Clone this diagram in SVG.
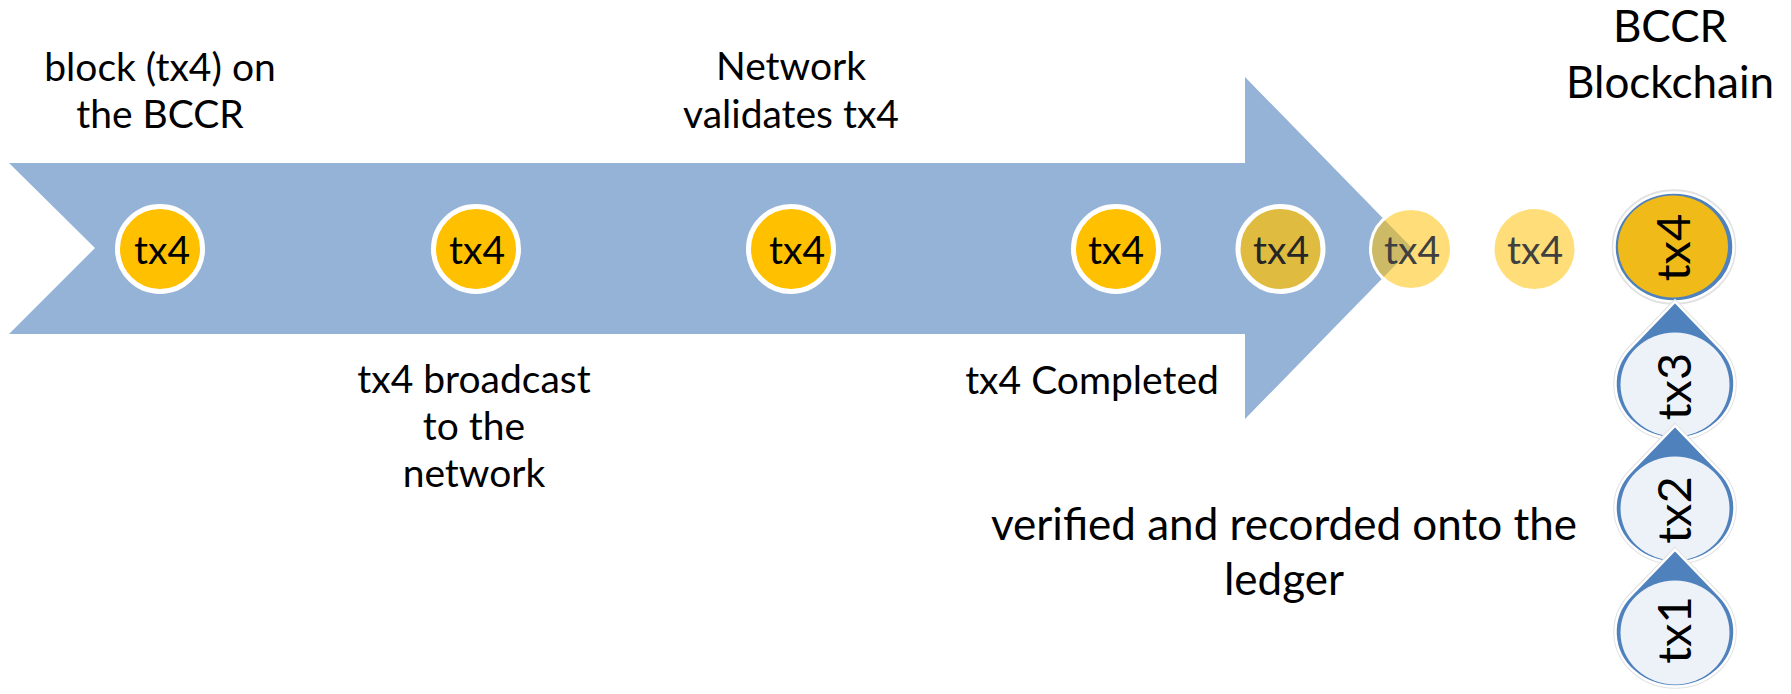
<svg xmlns="http://www.w3.org/2000/svg" width="1791" height="694" viewBox="0 0 1791 694">
  <style>
    text { font-family: Lato, "Open Sans", "Liberation Sans", sans-serif; text-anchor: middle; fill: #000; }
    .lbl { font-size: 39px; }
    .big { font-size: 44px; }
    .ct { font-size: 39px; }
    .ct-faded { font-size: 39px; fill: #404040; }
    .bt { font-size: 47px; }
    .dot { fill: #FFC000; stroke: #FFFFFF; stroke-width: 5; }
    .drop-halo { fill: none; stroke: #E2E2E2; stroke-width: 4.5; }
    .drop { fill: #4F81BD; stroke: #FFFFFF; stroke-width: 2.5; }
    .inner { fill: #EDF2F9; }
    .inner-gold { fill: #F0BB19; }
  </style>
  <defs>
    <path id="teardrop" d="M0,-82.3 L44.6,-36.1 A59.5,54.5 0 1 1 -44.6,-36.1 Z"/>
  </defs>
  <rect width="1791" height="694" fill="#FFFFFF"/>

  <g id="connectors">
    <path id="timeline-arrow" d="M9,163 L1245,163 L1245,77 L1412,248 L1245,419 L1245,334 L9,334 L95,248 Z" fill="#95B3D7"/>
  </g>

  <g id="labels">
    <text class="lbl" x="160" y="81">block (tx4) on</text>
    <text class="lbl" x="160" y="128">the BCCR</text>
    <text class="lbl" x="791" y="80">Network</text>
    <text class="lbl" x="791" y="128">validates tx4</text>
    <text class="lbl" x="474" y="393">tx4 broadcast</text>
    <text class="lbl" x="474" y="440">to the</text>
    <text class="lbl" x="474" y="487">network</text>
    <text class="lbl" x="1092" y="394">tx4 Completed</text>
    <text class="big" x="1670" y="42">BCCR</text>
    <text class="big" x="1670" y="98">Blockchain</text>
    <text class="big" x="1284" y="540">verified and recorded onto the</text>
    <text class="big" x="1284" y="595">ledger</text>
  </g>

  <g id="tx4-step1">
    <circle class="dot" cx="160" cy="249" r="42.5"/>
    <text class="ct" x="162" y="264">tx4</text>
  </g>
  <g id="tx4-step2">
    <circle class="dot" cx="476" cy="249" r="42.5"/>
    <text class="ct" x="477" y="264">tx4</text>
  </g>
  <g id="tx4-step3">
    <circle class="dot" cx="791" cy="249" r="42.5"/>
    <text class="ct" x="797" y="264">tx4</text>
  </g>
  <g id="tx4-step4">
    <circle class="dot" cx="1116" cy="249" r="42.5"/>
    <text class="ct" x="1116" y="264">tx4</text>
  </g>
  <g id="tx4-step5">
    <circle cx="1280.5" cy="249" r="42.5" fill="#DFBC40" stroke="#FFFFFF" stroke-width="5"/>
    <text class="ct" x="1281" y="264" style="fill:#262626">tx4</text>
  </g>
  <g id="tx4-step6">
    <circle cx="1411" cy="249" r="40.5" fill="#FFC000" fill-opacity="0.52" stroke="#FFFFFF" stroke-width="3"/>
    <text class="ct-faded" x="1412" y="264">tx4</text>
  </g>
  <g id="tx4-step7">
    <circle cx="1534.5" cy="249" r="40" fill="#FFC000" fill-opacity="0.52"/>
    <text class="ct-faded" x="1535" y="264">tx4</text>
  </g>

  <g id="block-tx4">
    <ellipse cx="1674" cy="247" rx="60" ry="55.5" fill="none" stroke="#E2E2E2" stroke-width="4.5"/>
    <ellipse cx="1674" cy="247" rx="59.5" ry="54.5" fill="#4F81BD" stroke="#FFFFFF" stroke-width="2.5"/>
    <ellipse class="inner-gold" cx="1673" cy="246.5" rx="55" ry="51"/>
    <text class="bt" transform="translate(1690,247.5) rotate(-90)">tx4</text>
  </g>
  <g id="block-tx3">
    <use href="#teardrop" x="1675" y="384" class="drop-halo"/>
    <use href="#teardrop" x="1675" y="384" class="drop"/>
    <ellipse class="inner" cx="1675" cy="384.5" rx="54.5" ry="52"/>
    <text class="bt" transform="translate(1691,386.5) rotate(-90)">tx3</text>
  </g>
  <g id="block-tx2">
    <use href="#teardrop" x="1675" y="508" class="drop-halo"/>
    <use href="#teardrop" x="1675" y="508" class="drop"/>
    <ellipse class="inner" cx="1675" cy="508.5" rx="54.5" ry="52"/>
    <text class="bt" transform="translate(1691,510) rotate(-90)">tx2</text>
  </g>
  <g id="block-tx1">
    <use href="#teardrop" x="1675" y="632" class="drop-halo"/>
    <use href="#teardrop" x="1675" y="632" class="drop"/>
    <ellipse class="inner" cx="1675" cy="632.5" rx="54.5" ry="52"/>
    <text class="bt" transform="translate(1691,630) rotate(-90)">tx1</text>
  </g>
</svg>
